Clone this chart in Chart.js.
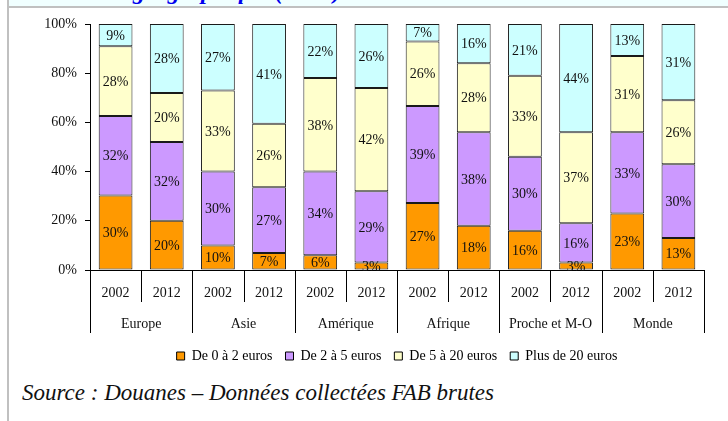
<!DOCTYPE html>
<html lang="fr">
<head>
<meta charset="utf-8">
<title>Répartition géographique</title>
<script src="https://cdn.jsdelivr.net/npm/chart.js@4.4.0/dist/chart.umd.min.js"></script>
<style>
  html, body { margin: 0; padding: 0; background: #fff; }
  body { width: 728px; height: 421px; position: relative; overflow: hidden; font-family: "Liberation Serif", serif; }
  #title-strip { position: absolute; left: 9px; top: 0; width: 719px; height: 6px; background: #f0ffff; overflow: hidden; border-bottom: 2px solid #c0c0c0; }
  #title-strip span { position: absolute; left: 124px; top: -21px; font: italic bold 24px/24px "Liberation Serif", serif; color: #0000ee; white-space: nowrap; }
  #left-rule { position: absolute; left: 7px; top: 0; width: 2px; height: 421px; background: #c0c0c0; }
  #chart-box { position: absolute; left: 0; top: 0; width: 728px; height: 373px; }
  #source { position: absolute; left: 22px; top: 380px; font: italic 23px "Liberation Serif", serif; color: #111; white-space: nowrap; }
</style>
</head>
<body>
<div id="title-strip"><span>géographique (en %)</span></div>
<div id="left-rule"></div>
<div id="chart-box"><canvas id="chart"></canvas></div>
<div id="source">Source : Douanes – Données collectées FAB brutes</div>

<script>
// --- data ---
const regions = ['Europe', 'Asie', 'Amérique', 'Afrique', 'Proche et M-O', 'Monde'];
const years = ['2002', '2012'];
const bandNames = ['De 0 à 2 euros', 'De 2 à 5 euros', 'De 5 à 20 euros', 'Plus de 20 euros'];
const bandColors = ['#ff9900', '#cc99ff', '#ffffcc', '#ccffff'];

// one value per bar: Europe 02, Europe 12, Asie 02, Asie 12, ...
const band0to2   = [30, 20, 10,  7,  6,  3, 27, 18, 16,  3, 23, 13];
const band2to5   = [32, 32, 30, 27, 34, 29, 39, 38, 30, 16, 33, 30];
const band5to20  = [28, 20, 33, 26, 38, 42, 26, 28, 33, 37, 31, 26];
const bandOver20 = [ 9, 28, 27, 41, 22, 26,  7, 16, 21, 44, 13, 31];
const yTicks = [0, 20, 40, 60, 80, 100];

const bands = [band0to2, band2to5, band5to20, bandOver20];

// labels for each bar (year), groups drawn by the plugin below
const barLabels = [];
regions.forEach(r => years.forEach(y => barLabels.push(y)));

// 100% stacked: scale each bar to its own total
const totals = band0to2.map((v, i) => bands.reduce((s, b) => s + b[i], 0));

const datasets = bands.map((vals, k) => ({
  label: bandNames[k],
  data: vals.map((v, i) => v / totals[i] * 100),
  raw: vals,
  backgroundColor: bandColors[k],
  borderColor: '#1a1a1a',
  borderWidth: 1,
  borderSkipped: false,
  barPercentage: 0.66,
  categoryPercentage: 1
}));

const FONT = '"Liberation Serif"';

// write the percentage in the middle of each segment
const segmentLabels = {
  id: 'segmentLabels',
  afterDatasetsDraw(chart) {
    const ctx = chart.ctx;
    ctx.save();
    ctx.font = '14px ' + FONT;
    ctx.fillStyle = '#111';
    ctx.textAlign = 'center';
    ctx.textBaseline = 'middle';
    chart.data.datasets.forEach((ds, k) => {
      const meta = chart.getDatasetMeta(k);
      if (meta.hidden) return;
      meta.data.forEach((bar, i) => {
        const mid = (bar.y + bar.base) / 2;
        ctx.fillText(ds.raw[i] + '%', bar.x, mid + 1);
      });
    });
    ctx.restore();
  }
};

// two-level category axis: years, then regions, with separator lines
const groupedAxis = {
  id: 'groupedAxis',
  afterDraw(chart) {
    const ctx = chart.ctx;
    const xs = chart.scales.x;
    const bottom = chart.chartArea.bottom;
    const n = barLabels.length;
    const step = (xs.right - xs.left) / n;
    ctx.save();
    ctx.strokeStyle = '#000';
    ctx.lineWidth = 1;
    for (let i = 0; i <= n; i++) {
      const x = Math.round(xs.getPixelForValue(i) - step / 2) + 0.5;
      const len = (i % years.length === 0) ? 63 : 32;
      ctx.beginPath();
      ctx.moveTo(x, bottom);
      ctx.lineTo(x, bottom + len);
      ctx.stroke();
    }
    ctx.fillStyle = '#111';
    ctx.textAlign = 'center';
    ctx.textBaseline = 'middle';
    ctx.font = '14px ' + FONT;
    barLabels.forEach((lab, i) => {
      ctx.fillText(lab, xs.getPixelForValue(i), bottom + 23);
    });
    regions.forEach((r, g) => {
      const x = (xs.getPixelForValue(g * 2) + xs.getPixelForValue(g * 2 + 1)) / 2;
      ctx.fillText(r, x, bottom + 54);
    });
    ctx.restore();
  }
};

function build() {
  new Chart(document.getElementById('chart'), {
    type: 'bar',
    data: { labels: barLabels, datasets: datasets },
    options: {
      responsive: true,
      maintainAspectRatio: false,
      animation: false,
      layout: { padding: { left: 0, right: 24, top: 24, bottom: 0 } },
      scales: {
        x: {
          stacked: true,
          grid: { display: false },
          border: { display: true, color: '#000', width: 1 },
          ticks: { display: false },
          afterFit(scale) { scale.height = 66; }
        },
        y: {
          stacked: true,
          min: 0,
          max: 100,
          afterBuildTicks(scale) { scale.ticks = yTicks.map(v => ({ value: v })); },
          grid: { display: true, drawOnChartArea: false, drawTicks: true, tickLength: 5, color: '#000' },
          border: { display: true, color: '#000', width: 1 },
          ticks: {
            padding: 8,
            color: '#111',
            font: { family: FONT, size: 14 },
            callback: v => v + '%'
          },
          afterFit(scale) { scale.width = 90; }
        }
      },
      plugins: {
        legend: {
          position: 'bottom',
          fullSize: false,
          labels: {
            boxWidth: 8,
            boxHeight: 8,
            padding: 13,
            color: '#111',
            font: { family: FONT, size: 14 },
            generateLabels(c) {
              return c.data.datasets.map((ds, k) => ({
                text: ds.label,
                fillStyle: ds.backgroundColor,
                strokeStyle: '#000',
                lineWidth: 1,
                datasetIndex: k,
                hidden: false
              }));
            }
          }
        },
        tooltip: { enabled: false }
      }
    },
    plugins: [segmentLabels, groupedAxis]
  });
}

// make sure the serif face is ready before the canvas draws text
Promise.all([
  document.fonts.load('14px "Liberation Serif"'),
  document.fonts.load('13px "Liberation Serif"')
]).then(build, build);
</script>
</body>
</html>
